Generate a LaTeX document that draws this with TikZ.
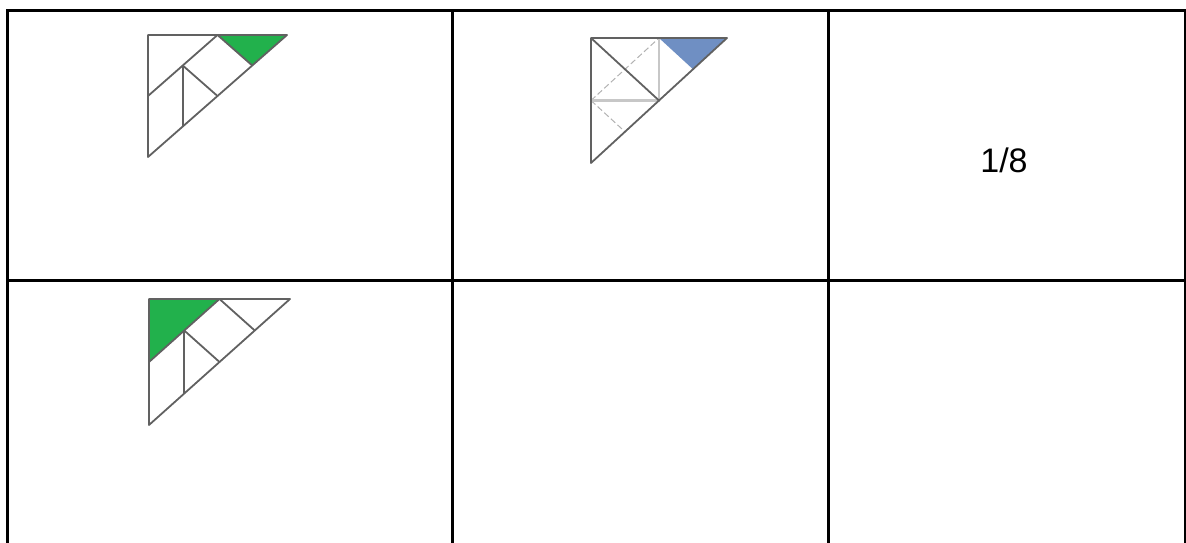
\documentclass[tikz,border=0pt]{standalone}
\usepackage{fontspec}
\setmainfont{Liberation Sans}
\definecolor{paintgreen}{HTML}{22B14C}
\definecolor{paintblue}{HTML}{6F8FC3}
\tikzset{
  grid/.style={line width=3pt,black},
  piece/.style={line width=1.8pt,black!62,line join=round},
  guide/.style={line width=2.6pt,black!22},
  guidedash/.style={line width=1pt,black!30,dash pattern=on 6pt off 3pt}
}
\begin{document}
\begin{tikzpicture}[x=1pt,y=-1pt]
  \useasboundingbox (0,0) rectangle (1186,543);
  % Table
  \draw[grid] (7,543) -- (7,10.5) -- (1185,10.5) -- (1185,543);
  \draw[grid] (7,280) -- (1185,280);
  \draw[grid] (452,10.5) -- (452,543);
  \draw[grid] (828.5,10.5) -- (828.5,543);
  % Cell 1: top-right piece shaded
  \begin{scope}[shift={(148,35)},x=34.75pt,y=-30.5pt]
    \fill[paintgreen] (2,0) -- (4,0) -- (3,1) -- cycle;
    \draw[piece] (0,0) -- (4,0) -- (0,4) -- cycle;
    \draw[piece] (2,0) -- (0,2);
    \draw[piece] (2,0) -- (3,1);
    \draw[piece] (1,1) -- (1,3);
    \draw[piece] (1,1) -- (2,2);
  \end{scope}
  % Cell 2: folded view
  \begin{scope}[shift={(591,38)},x=34pt,y=-31.25pt]
    \fill[paintblue] (2,0) -- (4,0) -- (3,1) -- cycle;
    \draw[guidedash] (0,2) -- (2,0);
    \draw[guidedash] (0,2) -- (1,3);
    \draw[guide] (2,0) -- (2,2) -- (0,2);
    \draw[piece] (0,0) -- (4,0) -- (0,4) -- cycle;
    \draw[piece] (0,0) -- (2,2);
  \end{scope}
  % Cell 3: answer
  \node (ans) at (1004,160) {\fontsize{34pt}{40pt}\selectfont 1/8};
  % Cell 4: corner piece shaded
  \begin{scope}[shift={(149,299)},x=35.25pt,y=-31.5pt]
    \fill[paintgreen] (0,0) -- (2,0) -- (0,2) -- cycle;
    \draw[piece] (0,0) -- (4,0) -- (0,4) -- cycle;
    \draw[piece] (2,0) -- (0,2);
    \draw[piece] (2,0) -- (3,1);
    \draw[piece] (1,1) -- (1,3);
    \draw[piece] (1,1) -- (2,2);
  \end{scope}
\end{tikzpicture}
\end{document}
